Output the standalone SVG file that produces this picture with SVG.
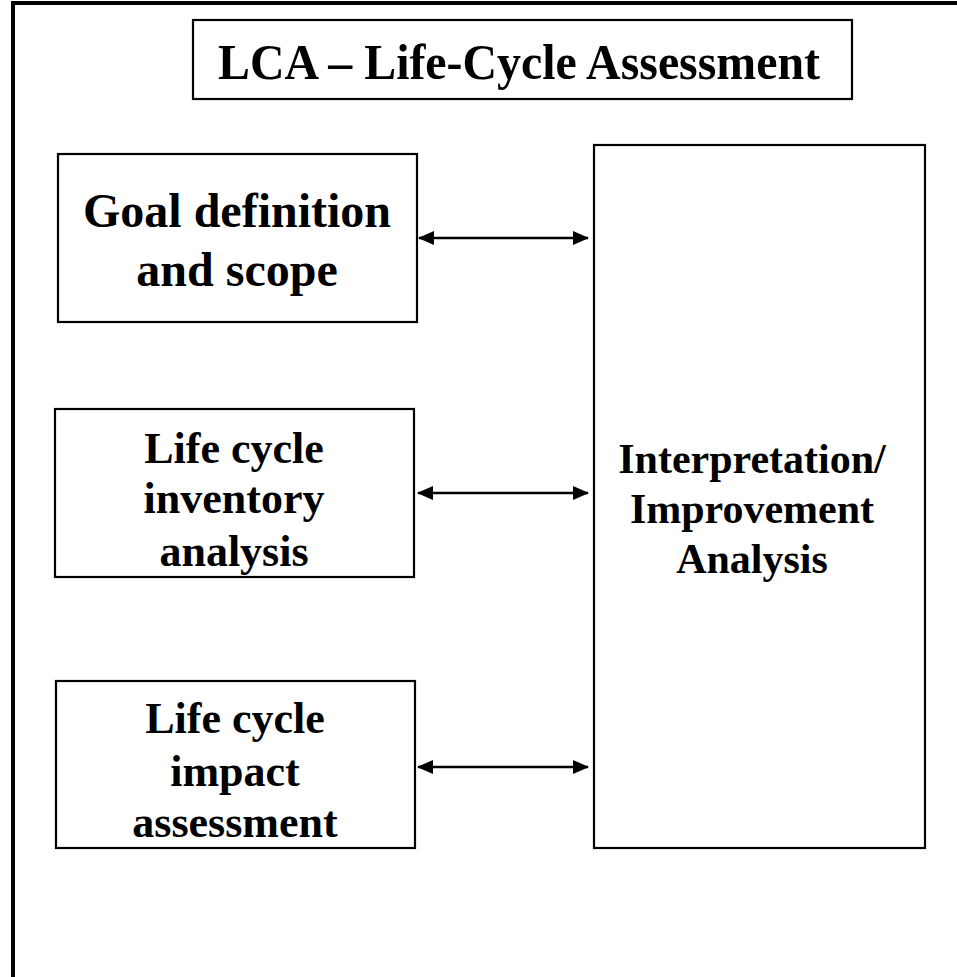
<svg xmlns="http://www.w3.org/2000/svg" width="957" height="977" viewBox="0 0 957 977">
<defs>
<style>
.box{fill:#fff;stroke:#000;stroke-width:2.2}
.t{font-family:"Liberation Serif","Times New Roman",serif;font-weight:bold;fill:#000;text-anchor:middle}
.c{stroke:#000;stroke-width:2.5;fill:none}
</style>
<marker id="ah" viewBox="0 0 16 14" refX="15" refY="7" markerWidth="16" markerHeight="14" markerUnits="userSpaceOnUse" orient="auto-start-reverse">
<path d="M0,0 L16,7 L0,14 Z" fill="#000"/>
</marker>
</defs>
<rect x="0" y="0" width="957" height="977" fill="#fff"/>
<rect x="13" y="3" width="970" height="1000" fill="none" stroke="#000" stroke-width="4"/>
<g id="title">
<rect class="box" x="193" y="20" width="659" height="79"/>
<text class="t" x="519" y="79" font-size="50" textLength="602" lengthAdjust="spacingAndGlyphs">LCA – Life-Cycle Assessment</text>
</g>
<g id="goal">
<rect class="box" x="58" y="154" width="359" height="168"/>
<text class="t" x="237" font-size="48"><tspan x="237" y="227">Goal definition</tspan><tspan x="237" y="286">and scope</tspan></text>
</g>
<g id="inventory">
<rect class="box" x="55" y="409" width="359" height="168"/>
<text class="t" x="234" font-size="44"><tspan x="234" y="463">Life cycle</tspan><tspan x="234" y="513">inventory</tspan><tspan x="234" y="566">analysis</tspan></text>
</g>
<g id="impact">
<rect class="box" x="56" y="681" width="359" height="167"/>
<text class="t" x="235" font-size="44"><tspan x="235" y="733">Life cycle</tspan><tspan x="235" y="786">impact</tspan><tspan x="235" y="837">assessment</tspan></text>
</g>
<g id="interpretation">
<rect class="box" x="594" y="145" width="331" height="703"/>
<text class="t" x="752" font-size="42"><tspan x="752" y="473">Interpretation/</tspan><tspan x="752" y="523">Improvement</tspan><tspan x="752" y="573">Analysis</tspan></text>
</g>
<g id="connectors">
<line class="c" x1="419" y1="238" x2="588" y2="238" marker-start="url(#ah)" marker-end="url(#ah)"/>
<line class="c" x1="418" y1="493" x2="588" y2="493" marker-start="url(#ah)" marker-end="url(#ah)"/>
<line class="c" x1="418" y1="767" x2="588" y2="767" marker-start="url(#ah)" marker-end="url(#ah)"/>
</g>
</svg>
